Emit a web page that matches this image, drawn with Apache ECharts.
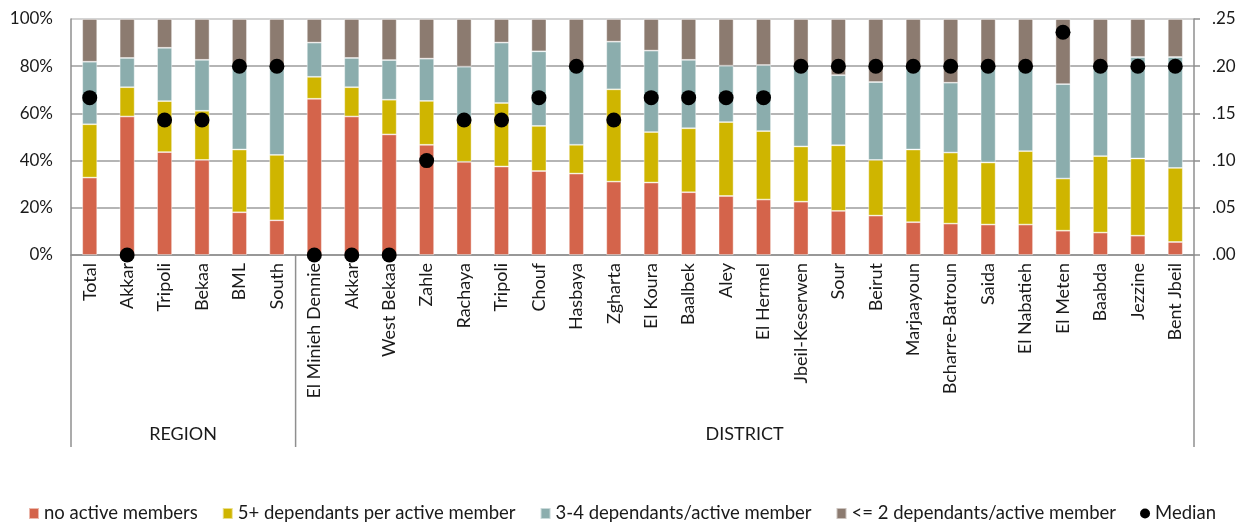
<!DOCTYPE html>
<html>
<head>
<meta charset="utf-8">
<script src="https://cdn.jsdelivr.net/npm/echarts@6/dist/echarts.min.js"></script>
<style>
  html, body { margin: 0; padding: 0; background: #fff; }
  #main { width: 1244px; height: 531px; }
</style>
</head>
<body>
<div id="main"></div>
<script>
// categories (6 regions, then 24 districts)
var categories = ['Total', 'Akkar', 'Tripoli', 'Bekaa', 'BML', 'South',
  'El Minieh Dennie', 'Akkar', 'West Bekaa', 'Zahle', 'Rachaya', 'Tripoli', 'Chouf', 'Hasbaya',
  'Zgharta', 'El Koura', 'Baalbek', 'Aley', 'El Hermel', 'Jbeil-Keserwen', 'Sour', 'Beirut',
  'Marjaayoun', 'Bcharre-Batroun', 'Saida', 'El Nabatieh', 'El Meten', 'Baabda', 'Jezzine', 'Bent Jbeil'];
var groups = ['REGION', 'DISTRICT'];
var groupStart = [0, 6];

// shares in %
var noActive = [32.8, 58.7, 43.6, 40.3, 18.1, 14.7,
  66.2, 58.7, 51.1, 46.7, 39.5, 37.5, 35.6, 34.5, 31.1, 30.7, 26.6, 25.0, 23.5, 22.6,
  18.7, 16.7, 13.9, 13.3, 12.9, 12.9, 10.3, 9.5, 8.2, 5.5];
var dep5plus = [22.6, 12.4, 21.6, 20.8, 26.6, 27.7,
  9.3, 12.4, 14.7, 18.6, 18.0, 26.9, 19.1, 12.2, 39.1, 21.4, 27.1, 31.3, 29.0, 23.4,
  27.8, 23.6, 30.8, 30.1, 26.3, 31.1, 22.1, 32.4, 32.7, 31.4];
var dep34 = [26.5, 12.4, 22.6, 21.6, 35.3, 37.6,
  14.5, 12.4, 16.8, 17.9, 22.3, 25.6, 31.6, 33.3, 20.2, 34.5, 29.0, 23.9, 28.0, 33.5,
  29.7, 33.0, 34.8, 29.6, 40.3, 35.8, 40.0, 37.6, 43.0, 47.0];
var dep2less = [18.1, 16.5, 12.2, 17.3, 20.0, 20.0,
  10.0, 16.5, 17.4, 16.8, 20.2, 10.0, 13.7, 20.0, 9.6, 13.4, 17.3, 19.8, 19.5, 20.5,
  23.8, 26.7, 20.5, 27.0, 20.5, 20.2, 27.6, 20.5, 16.1, 16.1];
// median (right axis)
var median = [0.1667, 0, 0.143, 0.143, 0.2, 0.2,
  0, 0, 0, 0.1, 0.143, 0.143, 0.1667, 0.2, 0.143, 0.1667, 0.1667, 0.1667, 0.1667, 0.2,
  0.2, 0.2, 0.2, 0.2, 0.2, 0.2, 0.236, 0.2, 0.2, 0.2];

var leftTicks = [0, 20, 40, 60, 80, 100];
var rightTicks = [0, 0.05, 0.1, 0.15, 0.2, 0.25];

var font = 'Lato, "Noto Sans", sans-serif';
var axisGray = '#8f8f8f';

function barSeries(name, data, color) {
  return {
    name: name,
    type: 'bar',
    stack: 'share',
    barWidth: '40%',
    data: data,
    itemStyle: { color: color, borderColor: 'rgba(255,255,255,0.55)', borderWidth: 0.8 }
  };
}

// vertical lines that bracket the REGION / DISTRICT groups under the axis
var bounds = groupStart.concat([categories.length]);
var sepSeries = bounds.map(function (b) {
  return {
    type: 'line',
    xAxisIndex: 2,
    yAxisIndex: 2,
    data: [[b, 0], [b, 1]],
    symbol: 'none',
    silent: true,
    lineStyle: { color: axisGray, width: 1.5 }
  };
});

var chart = echarts.init(document.getElementById('main'));
chart.setOption({
  animation: false,
  textStyle: { fontFamily: font, color: '#1a1a1a' },
  grid: [
    { left: 71, right: 50, top: 19, bottom: 276, containLabel: false },
    { left: 71, right: 50, top: 255, height: 192, containLabel: false }
  ],
  legend: {
    bottom: 3,
    left: 'center',
    itemGap: 24,
    itemWidth: 10,
    itemHeight: 11,
    textStyle: { fontFamily: font, fontSize: 18.5, color: '#1a1a1a' },
    data: [
      { name: 'no active members', icon: 'rect' },
      { name: '5+ dependants per active member', icon: 'rect' },
      { name: '3-4 dependants/active member', icon: 'rect' },
      { name: '<= 2 dependants/active member', icon: 'rect' },
      { name: 'Median', icon: 'circle', itemStyle: { color: '#000', opacity: 1 } }
    ]
  },
  xAxis: [
    {
      type: 'category',
      data: categories,
      axisLine: { lineStyle: { color: axisGray, width: 1.5 } },
      axisTick: { show: false },
      axisLabel: { rotate: 90, interval: 0, margin: 8, fontSize: 18, color: '#1a1a1a', fontFamily: font }
    },
    {
      type: 'category',
      data: categories,
      position: 'bottom',
      offset: 192,
      axisLine: { show: false },
      axisTick: { show: false },
      axisLabel: {
        inside: true,
        margin: 4,
        fontSize: 18,
        color: '#1a1a1a',
        fontFamily: font,
        padding: [0, 0, 0, 37],
        interval: function (i) { return i === 2 || i === 17; },
        formatter: function (v, i) { return i === 2 ? groups[0] : (i === 17 ? groups[1] : ''); }
      }
    },
    { type: 'value', gridIndex: 1, min: 0, max: categories.length, show: false }
  ],
  yAxis: [
    {
      type: 'value',
      min: leftTicks[0],
      max: leftTicks[leftTicks.length - 1],
      interval: 20,
      axisLine: { show: true, lineStyle: { color: axisGray, width: 1.5 } },
      axisTick: { show: false },
      axisLabel: { formatter: '{value}%', fontSize: 17, margin: 18, color: '#1a1a1a', fontFamily: font },
      splitLine: { lineStyle: { color: ['#9c9c9c', '#9c9c9c', '#9c9c9c', '#9c9c9c', '#9c9c9c', '#c4c4c4'], width: 1.5 } }
    },
    {
      type: 'value',
      min: rightTicks[0],
      max: rightTicks[rightTicks.length - 1],
      interval: 0.05,
      position: 'right',
      axisLine: { show: true, lineStyle: { color: axisGray, width: 1.5 } },
      axisTick: { show: true, length: 6, lineStyle: { color: axisGray, width: 1.5 } },
      axisLabel: {
        fontSize: 17, margin: 18, color: '#1a1a1a', fontFamily: font,
        formatter: function (v) { return v.toFixed(2).replace(/^0/, ''); }
      },
      splitLine: { show: false }
    },
    { type: 'value', gridIndex: 1, min: 0, max: 1, show: false }
  ],
  series: [
    barSeries('no active members', noActive, '#d4644b'),
    barSeries('5+ dependants per active member', dep5plus, '#cfb500'),
    barSeries('3-4 dependants/active member', dep34, '#8badad'),
    barSeries('<= 2 dependants/active member', dep2less, '#8c7b70'),
    {
      name: 'Median',
      type: 'scatter',
      yAxisIndex: 1,
      data: median,
      symbolSize: 15,
      clip: false,
      z: 5,
      itemStyle: { color: '#000', opacity: 1 }
    }
  ].concat(sepSeries)
});
</script>
</body>
</html>
